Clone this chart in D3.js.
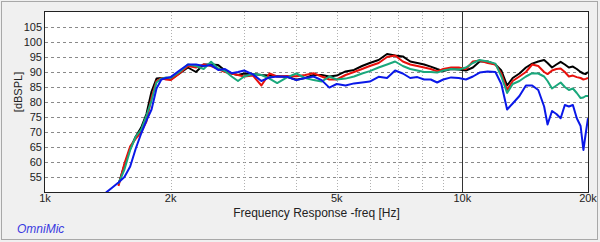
<!DOCTYPE html>
<html lang="en">
<head>
    <meta charset="UTF-8">
    <title>OmniMic frequency response</title>
    <script src="https://d3js.org/d3.v7.min.js"></script>
    <style>
        body { margin: 0; background: #f0f0f0; }
        svg text { font-family: "Liberation Sans", Arial, sans-serif; fill: #222; }
    </style>
</head>
<body>
    <svg id="svg1" width="600" height="242"></svg>

    <script>
        // data ---------------------------------------------------------------
        const freqs = [1400, 1450, 1500, 1550, 1600, 1650, 1700, 1750, 1800, 1850, 1900, 1950, 2000,
            2100, 2200, 2300, 2400, 2500, 2600, 2700, 2800, 2900, 3000, 3150, 3300, 3450, 3600, 3800,
            4000, 4200, 4400, 4600, 4800, 5000, 5250, 5500, 5750, 6000, 6300, 6600, 6900, 7200, 7500,
            7800, 8100, 8400, 8700, 9000, 9400, 9800, 10200, 10600, 11000, 11500, 12000, 12400, 12800,
            13200, 13700, 14200, 14700, 15200, 15700, 16000, 16400, 16800, 17200, 17600, 18000, 18400,
            18800, 19200, 19500, 19750, 20000];

        const blackDb = [null, null, 52.5, 59, 64.5, 68.5, 71.5, 76, 83.5, 87.8, 88, 87.8, 87.5,
            89.5, 91.5, 90, 92.5, 92.5, 92.3, 90.5, 89.5, 89, 89.5, 89.3, 89, 88.8, 88.6, 88.4,
            87.4, 88, 89, 89, 88.5, 88.8, 90.2, 90.7, 92, 93, 94, 96, 95.5, 95.2, 93.5,
            93, 92.5, 91.8, 91, 90.3, 91, 90.8, 90.5, 91.5, 93.5, 93.5, 92.5, 90.5, 85.5,
            88, 89.5, 91.5, 92.8, 93.5, 94, 93, 91.5, 92.5, 93.4, 92.5, 91.5, 91.8,
            91, 90, 89.5, 89.3, 90];

        const redDb = [null, null, 52, 59.5, 65.2, 67.8, 70, 73.5, 81.5, 87, 88, 87.5, 87.3,
            89.5, 92, 91.5, 92.5, 92, 91, 90, 89.5, 89, 88.5, 88.8, 85.5, 89.5, 88.5, 88.7,
            88.6, 89, 89.6, 88.5, 87.5, 87.5, 89, 90, 91, 92, 93, 95, 95.5, 93.5, 92.5,
            92, 91.5, 91, 90.2, 91, 91.5, 91.5, 91, 93.5, 93.8, 93, 92.5, 89.5, 84,
            87, 88.5, 90, 92.5, 92, 90, 89.3, 90.5, 91, 91.2, 90, 88.5, 88.8,
            88.3, 88, 87.5, 87.7, 88];

        const greenDb = [null, null, 52.8, 57.5, 64, 68.5, 70.8, 75.5, 80.5, 86.5, 87.8, 88.2, 88,
            90, 92.5, 92, 91, 93.4, 91.2, 90.3, 88.5, 87, 88.5, 89.3, 89, 87.8, 86.3, 88.2,
            89.5, 88, 87.3, 86.8, 88.5, 87.5, 87.8, 88.5, 89.5, 90.3, 91.5, 92.5, 93.5, 92, 91,
            90.5, 90, 90, 89.8, 90.5, 91, 90.8, 91.5, 93, 94, 93.5, 92.8, 88.5, 83,
            86, 87, 88.5, 89.6, 89.5, 88.5, 87, 84.5, 85.5, 86.5, 85, 84, 84.5,
            83, 81.3, 81.5, 82, 82];

        const blueDb = [49.8, 51.5, 53.2, 55, 58.5, 64.5, 69.5, 73.8, 77.5, 84.5, 87.5, 88, 88.3,
            90.5, 92.5, 92.5, 92, 92.3, 90.7, 91, 89.6, 90, 90.5, 89.2, 87, 88.2, 88.5, 88.4,
            87.3, 88, 88.5, 87.3, 84.8, 86, 85.5, 86.2, 86.5, 86.8, 88.4, 88, 90.5, 89.5, 88,
            88.3, 87.5, 87.5, 86.5, 87.5, 88.2, 88, 87.5, 88.5, 89.8, 90.2, 90, 86, 77.5,
            79.5, 82, 85.5, 85.5, 84, 78.5, 72.5, 77, 76, 74.6, 79, 78.5, 79,
            74.6, 72, 64, 69.5, 74.6];

        const seriesNames = ["black", "red", "green", "blue"];
        const seriesColors = ["#000000", "#e8100c", "#1aa87c", "#0a18e8"];
        const seriesValues = [blackDb, redDb, greenDb, blueDb];

        const yTicks = [55, 60, 65, 70, 75, 80, 85, 90, 95, 100, 105];
        const xLabelTicks = [1000, 2000, 5000, 10000, 20000];
        const xLabelText = ["1k", "2k", "5k", "10k", "20k"];
        const xGridTicks = [2000, 3000, 4000, 5000, 6000, 7000, 8000, 9000];

        // svg configuration---------------------------------------------------
        const svg1 = d3.select("svg#svg1");
        const margin = {left: 45, right: 12, top: 12, bottom: 50};
        const chartWidth = 600 - margin.left - margin.right;
        const chartHeight = 242 - margin.top - margin.bottom;

        // outer panel
        svg1.append("rect")
            .attr("x", 1.5).attr("y", 1.5)
            .attr("width", 596).attr("height", 238)
            .attr("fill", "#f0f0f0")
            .attr("stroke", "#a8a8a8");

        const xScale = d3.scaleLog().domain([1000, 20000]).range([0, chartWidth]);
        const yScale = d3.scaleLinear().domain([50, 110]).range([chartHeight, 0]);

        let chart = svg1.append("g")
            .attr("transform", `translate(${margin.left},${margin.top})`);

        chart.append("rect")
            .attr("width", chartWidth).attr("height", chartHeight)
            .attr("fill", "white");

        // grids -------------------------------------------------------------
        chart.append("g").selectAll("line")
            .data(yTicks)
            .join("line")
            .attr("x1", 0).attr("x2", chartWidth)
            .attr("y1", d => Math.round(yScale(d)) + 0.5)
            .attr("y2", d => Math.round(yScale(d)) + 0.5)
            .attr("stroke", "#8a8a8a")
            .attr("stroke-dasharray", "3,3");

        chart.append("g").selectAll("line")
            .data(xGridTicks)
            .join("line")
            .attr("x1", d => Math.round(xScale(d)) + 0.5)
            .attr("x2", d => Math.round(xScale(d)) + 0.5)
            .attr("y1", 0).attr("y2", chartHeight)
            .attr("stroke", "#b0b0b0")
            .attr("stroke-dasharray", "1,2");

        chart.append("line")
            .attr("x1", Math.round(xScale(10000)) + 0.5)
            .attr("x2", Math.round(xScale(10000)) + 0.5)
            .attr("y1", 0).attr("y2", chartHeight)
            .attr("stroke", "#333");

        // lines -------------------------------------------------------------
        chart.append("clipPath").attr("id", "plotClip")
            .append("rect").attr("width", chartWidth).attr("height", chartHeight);

        const lineGen = d3.line()
            .defined(d => d[1] !== null)
            .x(d => xScale(d[0]))
            .y(d => yScale(d[1]));

        chart.append("g")
            .attr("clip-path", "url(#plotClip)")
            .selectAll("path")
            .data(seriesValues)
            .join("path")
            .attr("fill", "none")
            .attr("stroke", (d, i) => seriesColors[i])
            .attr("stroke-width", 2)
            .attr("stroke-linejoin", "round")
            .attr("d", d => lineGen(freqs.map((f, i) => [f, d[i]])));

        // frame
        chart.append("rect")
            .attr("x", -0.5).attr("y", -0.5)
            .attr("width", chartWidth + 1).attr("height", chartHeight + 1)
            .attr("fill", "none")
            .attr("stroke", "#222");

        // axes labels ---------------------------------------------------------
        chart.append("g").selectAll("text")
            .data(yTicks)
            .join("text")
            .attr("x", -3)
            .attr("y", d => yScale(d) + 4)
            .attr("text-anchor", "end")
            .attr("font-size", 11)
            .text(d => d);

        chart.append("g").selectAll("text")
            .data(xLabelTicks)
            .join("text")
            .attr("x", d => xScale(d))
            .attr("y", chartHeight + 10)
            .attr("text-anchor", "middle")
            .attr("font-size", 11)
            .text((d, i) => xLabelText[i]);

        svg1.append("text")
            .attr("x", margin.left + chartWidth / 2)
            .attr("y", 217)
            .attr("text-anchor", "middle")
            .attr("font-size", 12)
            .text("Frequency Response -freq [Hz]");

        svg1.append("text")
            .attr("transform", `translate(22,${margin.top + chartHeight / 2 - 10}) rotate(-90)`)
            .attr("text-anchor", "middle")
            .attr("font-size", 11)
            .text("[dBSPL]");

        svg1.append("text")
            .attr("x", 17)
            .attr("y", 233)
            .attr("font-size", 12)
            .attr("font-style", "italic")
            .style("fill", "#3a3ae0")
            .text("OmniMic");
    </script>
</body>
</html>
